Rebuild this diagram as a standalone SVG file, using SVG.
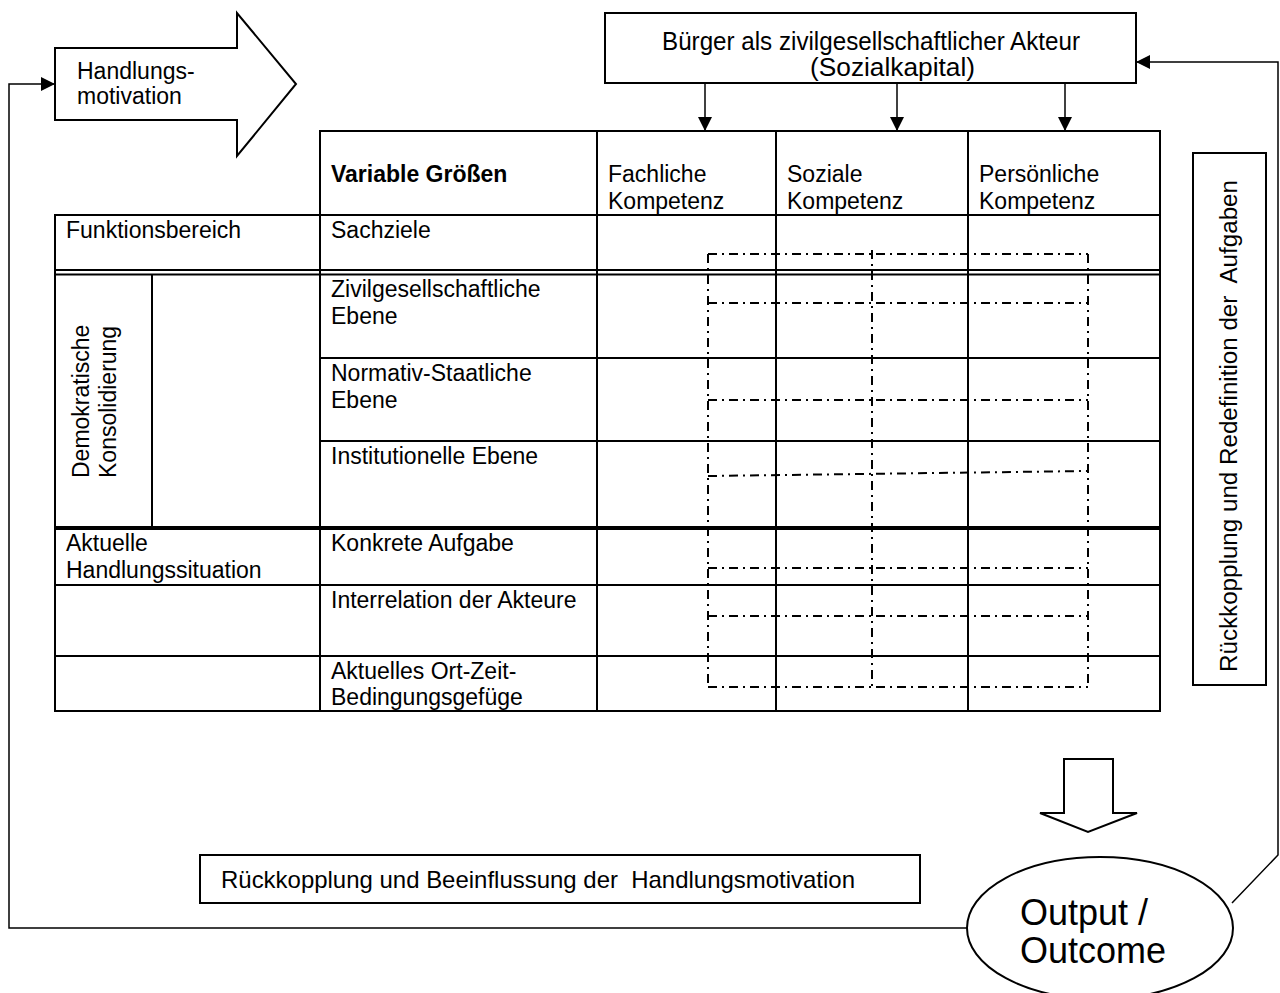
<svg xmlns="http://www.w3.org/2000/svg" width="1280" height="993" viewBox="0 0 1280 993">
<style>
text{font-family:"Liberation Sans",Arial,sans-serif;font-size:23px;fill:#000;white-space:pre}
.b{font-weight:bold}
.f25{font-size:25px}
.f24{font-size:24px}
.f36{font-size:36px}
.box{fill:#fff;stroke:#000;stroke-width:2}
.ln{stroke:#000;stroke-width:2;fill:none}
.thin{stroke:#000;stroke-width:1.5;fill:none}
.dd{stroke:#000;stroke-width:2;fill:none;stroke-dasharray:9,5,2,5}
</style>
<defs>
<marker id="ah" viewBox="0 0 10 10" refX="10" refY="5" markerWidth="14" markerHeight="14" markerUnits="userSpaceOnUse" orient="auto">
<path d="M0,0 L10,5 L0,10 Z" fill="#000"/>
</marker>
</defs>
<rect width="1280" height="993" fill="#fff"/>

<g id="connectors">
<path class="thin" d="M968,928 L9,928 L9,84 L55,84" marker-end="url(#ah)"/>
<path class="thin" d="M1232,903 L1278,855 L1278,62 L1136,62" marker-end="url(#ah)"/>
<line class="thin" x1="705" y1="83" x2="705" y2="131" marker-end="url(#ah)"/>
<line class="thin" x1="897" y1="83" x2="897" y2="131" marker-end="url(#ah)"/>
<line class="thin" x1="1065" y1="83" x2="1065" y2="131" marker-end="url(#ah)"/>
</g>

<g id="node-handlungsmotivation">
<polygon class="box" stroke-width="1.5" points="55,48 237,48 237,13 296,84 237,156 237,120 55,120"/>
<text x="77" y="79">Handlungs-</text>
<text x="77" y="104">motivation</text>
</g>

<g id="node-buerger">
<rect class="box" x="605" y="13" width="531" height="70"/>
<text class="f25" x="662" y="50" textLength="418" lengthAdjust="spacingAndGlyphs">Bürger als zivilgesellschaftlicher Akteur</text>
<text class="f25" x="810" y="76" textLength="165" lengthAdjust="spacingAndGlyphs">(Sozialkapital)</text>
</g>

<g id="node-table">
<rect class="ln" x="320" y="131" width="840" height="84"/>
<rect class="ln" x="55" y="215" width="1105" height="496"/>
<line class="ln" x1="597" y1="131" x2="597" y2="711"/>
<line class="ln" x1="776" y1="131" x2="776" y2="711"/>
<line class="ln" x1="968" y1="131" x2="968" y2="711"/>
<line class="ln" x1="320" y1="215" x2="320" y2="711"/>
<line class="ln" x1="152" y1="274" x2="152" y2="528"/>
<line class="ln" x1="55" y1="270" x2="1160" y2="270"/>
<line class="ln" x1="55" y1="274.5" x2="1160" y2="274.5"/>
<line class="ln" x1="320" y1="358" x2="1160" y2="358"/>
<line class="ln" x1="320" y1="441" x2="1160" y2="441"/>
<line stroke="#000" stroke-width="4" x1="55" y1="528" x2="1160" y2="528"/>
<line class="ln" x1="55" y1="585" x2="1160" y2="585"/>
<line class="ln" x1="55" y1="656" x2="1160" y2="656"/>

<text class="b" x="331" y="182">Variable Größen</text>
<text x="608" y="182">Fachliche</text>
<text x="608" y="209">Kompetenz</text>
<text x="787" y="182">Soziale</text>
<text x="787" y="209">Kompetenz</text>
<text x="979" y="182">Persönliche</text>
<text x="979" y="209">Kompetenz</text>

<text x="66" y="238">Funktionsbereich</text>
<text x="331" y="238">Sachziele</text>
<text x="331" y="297">Zivilgesellschaftliche</text>
<text x="331" y="324">Ebene</text>
<text x="331" y="381">Normativ-Staatliche</text>
<text x="331" y="408">Ebene</text>
<text x="331" y="464">Institutionelle Ebene</text>
<text transform="translate(89,478) rotate(-90)">Demokratische</text>
<text transform="translate(116,478) rotate(-90)">Konsolidierung</text>
<text x="66" y="551">Aktuelle</text>
<text x="66" y="578">Handlungssituation</text>
<text x="331" y="551">Konkrete Aufgabe</text>
<text x="331" y="608">Interrelation der Akteure</text>
<text x="331" y="679">Aktuelles Ort-Zeit-</text>
<text x="331" y="705">Bedingungsgefüge</text>
</g>

<g id="node-dashgrid">
<line class="dd" x1="708" y1="254" x2="1088" y2="254"/>
<line class="dd" x1="708" y1="303" x2="1088" y2="303"/>
<line class="dd" x1="708" y1="400" x2="1088" y2="400"/>
<line class="dd" x1="708" y1="476" x2="1088" y2="471"/>
<line class="dd" x1="708" y1="568" x2="1088" y2="568"/>
<line class="dd" x1="708" y1="616" x2="1088" y2="616"/>
<line class="dd" x1="708" y1="687" x2="1088" y2="687"/>
<line class="dd" x1="708" y1="254" x2="708" y2="687"/>
<line class="dd" x1="872" y1="250" x2="872" y2="687"/>
<line class="dd" x1="1088" y1="254" x2="1088" y2="687"/>
</g>

<g id="node-redefinition">
<rect class="box" x="1193" y="153" width="73" height="532"/>
<text transform="translate(1237,672) rotate(-90)" textLength="492" lengthAdjust="spacingAndGlyphs">Rückkopplung und Redefinition der  Aufgaben</text>
</g>

<g id="node-beeinflussung">
<rect class="box" x="200" y="855" width="720" height="48"/>
<text class="f24" x="221" y="888" textLength="634" lengthAdjust="spacingAndGlyphs">Rückkopplung und Beeinflussung der  Handlungsmotivation</text>
</g>

<g id="node-blockarrow">
<polygon class="box" stroke-width="1.5" points="1064,759 1113,759 1113,813 1137,813 1088,832 1040,813 1064,813"/>
</g>

<g id="node-output">
<ellipse class="box" stroke-width="1.5" cx="1100" cy="928" rx="133" ry="71"/>
<text class="f36" x="1020" y="925">Output /</text>
<text class="f36" x="1020" y="963">Outcome</text>
</g>
</svg>
